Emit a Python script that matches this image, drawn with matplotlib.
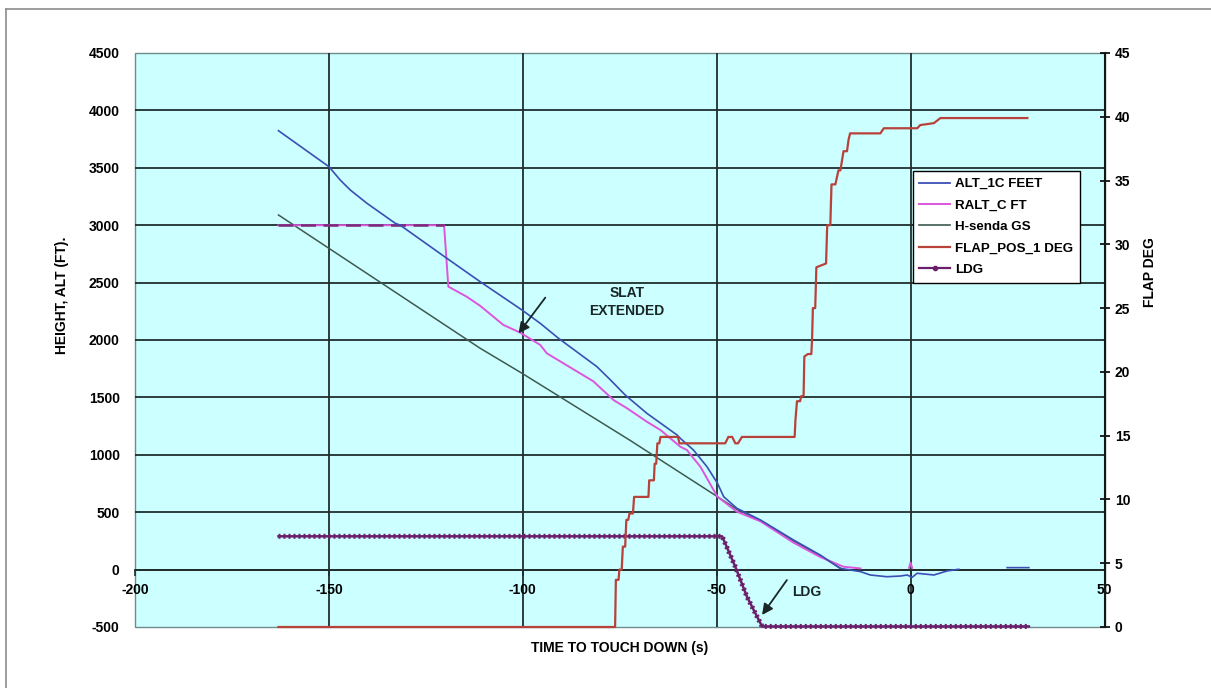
import matplotlib
matplotlib.use("Agg")
import matplotlib.pyplot as plt
from matplotlib.lines import Line2D

nan = float("nan")

# values (time to touchdown in s)
alt_time = [-163.0, -150.0, -147.1, -144.5, -140.2, -132.9, -131.6, -119.6, -111.0, -100.2,
            -95.5, -90.8, -80.9, -77.4, -73.6, -68.0, -60.2, -59.4, -56.0, -52.5,
            -49.8, -48.2, -44.8, -38.7, -30.2, -23.3, -18.2, -12.9, -10.4, -6.1,
            -2.6, -0.9, 0.4, 1.7, 6.0, 9.4, 12.4, nan, 24.9, 30.5]
alt_feet = [3823, 3510, 3394, 3307, 3191, 3017, 3000, 2712, 2508, 2261,
            2145, 2015, 1768, 1652, 1521, 1361, 1172, 1144, 1042, 896,
            752, 635, 534, 432, 258, 127, 11, -18, -47, -62,
            -56, -47, -67, -32, -47, -12, 3, nan, 17, 17]

ralt_time = [-163.0, -120.3, -119.2, -114.5, -111.0, -105.0, -100.7, -95.5, -93.8, -81.8,
             -76.6, -73.1, -68.0, -64.5, -59.4, -57.7, -54.2, -50.8, -49.8, -44.8,
             -38.7, -30.2, -23.3, -17.3, -12.9, nan, -0.4, 0.0, 0.4]
ralt_feet = [3000, 3000, 2465, 2378, 2298, 2131, 2065, 1957, 1884, 1640,
             1477, 1405, 1288, 1216, 1071, 1042, 896, 693, 635, 505,
             420, 235, 110, 25, 10, nan, 15, 60, 15]

gs_time = [-163.0, -111.0, -100.2, -72.3, -49.8, -44.8, -38.7, -30.2, -23.3, -18.2]
gs_feet = [3089, 1928, 1710, 1125, 635, 525, 425, 250, 120, 15]

flap_time = [-163.0, -76.2, -76.0, -75.3, -75.1, -74.5, -74.2, -73.6, -73.3, -72.8,
             -72.5, -71.6, -71.3, -67.6, -67.4, -66.2, -66.0, -65.6, -65.3, -64.8,
             -64.5, -60.0, -59.6, -47.8, -47.0, -46.0, -45.2, -44.5, -43.5, -29.9,
             -29.7, -29.3, -28.5, -28.2, -27.6, -27.4, -26.5, -25.6, -25.4, -25.2,
             -24.6, -24.3, -21.8, -21.5, -20.7, -20.4, -19.4, -18.6, -18.1, -17.3,
             -16.4, -16.0, -15.6, -7.8, -6.9, 1.7, 2.5, 6.0, 7.7, 30.1]
flap_deg = [0, 0, 3.7, 3.7, 4.5, 4.5, 6.3, 6.3, 8.4, 8.4,
            8.9, 8.9, 10.2, 10.2, 11.5, 11.5, 12.8, 12.8, 14.4, 14.4,
            14.9, 14.9, 14.4, 14.4, 14.9, 14.9, 14.4, 14.4, 14.9, 14.9,
            16.2, 17.7, 17.7, 18.1, 18.1, 21.2, 21.4, 21.4, 22.6, 25.0,
            25.0, 28.2, 28.5, 31.5, 31.5, 34.7, 34.7, 35.8, 35.8, 37.3,
            37.3, 38.2, 38.7, 38.7, 39.1, 39.1, 39.35, 39.5, 39.9, 39.9]

ldg_time = [-163.0, -48.6, -45.2, -42.2, -38.3, 30.5]
ldg_value = [290, 290, 25, -236, -495, -495]

x_ticks = [-200, -150, -100, -50, 0, 50]
height_ticks = list(range(-500, 4501, 500))
flap_ticks = list(range(0, 46, 5))

series_labels = ["ALT_1C FEET", "RALT_C FT", "H-senda GS", "FLAP_POS_1 DEG", "LDG"]

# colours
bg = "#CCFFFF"
grid_c = "#1F2D2D"
c_alt = "#3A4FB4"
c_ralt = "#DD55DD"
c_gs = "#3E5A50"
c_flap = "#B8413A"
c_ldg = "#6B1F6B"

plt.rcParams['font.family'] = ['Liberation Sans', 'DejaVu Sans']
plt.rcParams['font.weight'] = 'bold'
plt.rcParams['axes.unicode_minus'] = False

W, H = 1211, 688
fig = plt.figure(figsize=(W / 100, H / 100), dpi=100)
ax = fig.add_axes([135 / W, 1 - 627 / H, (1104.5 - 135) / W, (627 - 53) / H])
ax2 = ax.twinx()

ax.set_facecolor(bg)
ax.patch.set_edgecolor("#6E8C8C")
ax.patch.set_linewidth(1.0)
ax.set_xlim(-200, 50)
ax.set_ylim(-500, 4500)
ax.set_xticks(x_ticks)
ax.set_yticks(height_ticks)

# interior gridlines only (edges are the plot-area border)
for v in height_ticks[1:-1]:
    ax.axhline(v, color=grid_c, lw=1.3, zorder=1)
for t in x_ticks[1:-1]:
    ax.axvline(t, color=grid_c, lw=1.3, zorder=1)

for s in ["top", "left", "right"]:
    ax.spines[s].set_visible(False)
ax.spines["bottom"].set_position(("data", 0))
ax.spines["bottom"].set_color(grid_c)
ax.spines["bottom"].set_linewidth(1.3)
ax.tick_params(axis="y", length=0, pad=11, labelsize=10)
ax.tick_params(axis="x", direction="out", length=4, width=1.2, color=grid_c, pad=6, labelsize=10)

# height series
ax.plot(gs_time, gs_feet, color=c_gs, lw=1.1, zorder=3)
ax.plot(ralt_time, ralt_feet, color=c_ralt, lw=1.4, zorder=3)
ax.plot(ralt_time[:2], ralt_feet[:2], color="#7A2A7A", lw=1.8, ls=(0, (6, 3)), zorder=3)
ax.plot(alt_time, alt_feet, color=c_alt, lw=1.2, zorder=4)
ax.plot(ldg_time, ldg_value, color=c_ldg, lw=1.8, zorder=4, clip_on=False)
ax.plot(ldg_time, ldg_value, color=c_ldg, lw=3.6, ls=(0, (0.4, 0.6)), zorder=4, clip_on=False)

# flap on secondary axis
ax2.set_ylim(0, 45)
ax2.set_yticks(flap_ticks)
for s in ["top", "bottom", "left"]:
    ax2.spines[s].set_visible(False)
ax2.spines["right"].set_color("#101818")
ax2.spines["right"].set_linewidth(1.5)
ax2.tick_params(axis="y", direction="inout", length=7, width=1.2, pad=4, labelsize=10)
ax2.plot(flap_time, flap_deg, color=c_flap, lw=1.6, clip_on=False)

# annotations
arrow = dict(arrowstyle="-|>", color="#1A2626", lw=1.3, mutation_scale=16, shrinkA=0, shrinkB=0)
ax.annotate("", xy=(-101.1, 2058), xytext=(-94.2, 2369), arrowprops=arrow, zorder=6)
ax.text(-73.2, 2331, "SLAT\nEXTENDED", ha="center", va="center", fontsize=10,
        linespacing=1.35, color="#1A2626")
ax.annotate("", xy=(-38.3, -395), xytext=(-31.9, -91), arrowprops=arrow, zorder=6)
ax.text(-26.7, -199, "LDG", ha="center", va="center", fontsize=10, color="#1A2626")

# legend
handles = [Line2D([], [], color=c_alt, lw=1.3),
           Line2D([], [], color=c_ralt, lw=1.4),
           Line2D([], [], color=c_gs, lw=1.2),
           Line2D([], [], color=c_flap, lw=1.6),
           Line2D([], [], color=c_ldg, lw=1.6, marker="o", markersize=3)]
leg = ax2.legend(handles, series_labels, loc="upper left", bbox_to_anchor=(0.802, 0.794),
                 fancybox=False, framealpha=1, edgecolor="black", fontsize=9.6,
                 borderaxespad=0, handlelength=2.3, handletextpad=0.4,
                 labelspacing=0.68, borderpad=0.5)
leg.get_frame().set_linewidth(1.0)
leg.set_zorder(10)

# axis titles
fig.text(62 / W, 1 - 295 / H, "HEIGHT, ALT (FT).", rotation=90, ha="center", va="center", fontsize=10)
fig.text(1150 / W, 1 - 272 / H, "FLAP DEG", rotation=90, ha="center", va="center", fontsize=10)
fig.text(620 / W, 1 - 648 / H, "TIME TO TOUCH DOWN (s)", ha="center", va="center", fontsize=10)

# outer frame (top and left edges visible in the reference)
fig.add_artist(Line2D([6 / W, 6 / W], [0, 1 - 9 / H], transform=fig.transFigure, color="#8C8C8C", lw=1.2))
fig.add_artist(Line2D([6 / W, 1], [1 - 9 / H, 1 - 9 / H], transform=fig.transFigure, color="#8C8C8C", lw=1.2))

fig.savefig("out.png", dpi=100)
